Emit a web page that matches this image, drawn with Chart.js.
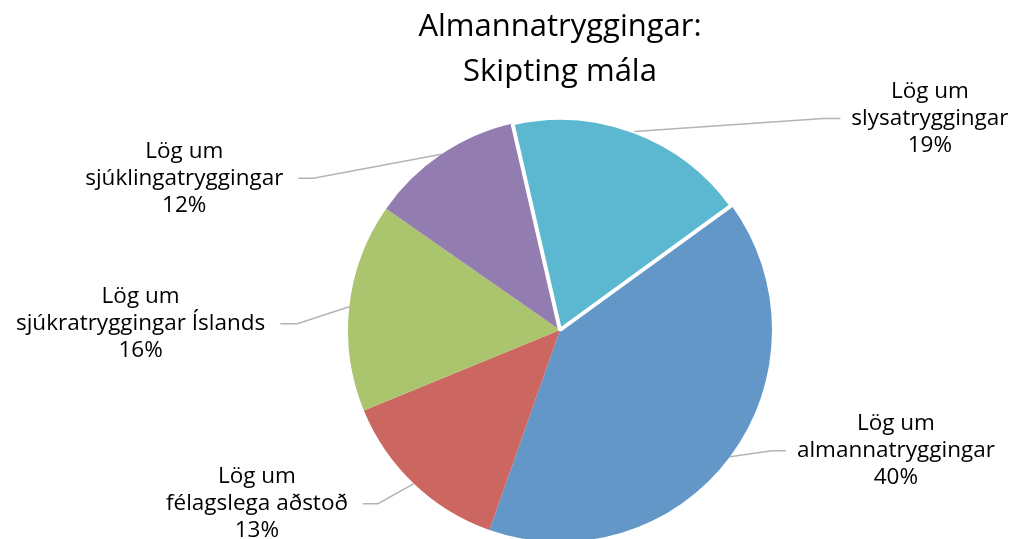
<!DOCTYPE html>
<html>
<head>
<meta charset="utf-8">
<script src="https://cdn.jsdelivr.net/npm/chart.js@4.4.1/dist/chart.umd.min.js"></script>
<style>
  html, body { margin: 0; padding: 0; background: #fff; overflow: hidden; }
  #wrap { position: relative; width: 1014px; height: 560px; }
</style>
</head>
<body>
<div id="wrap"><canvas id="grafSkipting"></canvas></div>
<script>
// Gögn
const titleLines = ['Almannatryggingar:', 'Skipting mála'];
const categories = [
    'Lög um almannatryggingar',
    'Lög um félagslega aðstoð',
    'Lög um sjúkratryggingar Íslands',
    'Lög um sjúklingatryggingar',
    'Lög um slysatryggingar'
];
const shares = [40.4, 13.4, 15.9, 11.7, 18.6];

const sliceColors = ['#6297c8', '#cc6661', '#abc46e', '#937cb0', '#5cb8d1'];
// leader line: elbow offset from arc point (dx, dy) and horizontal run
const leaderLayout = [
    [42, -6, 14],
    [-36, 20, 15],
    [-52, 17, 17],
    [-128, 24, 15],
    [189, -13, 17]
];

const leaderLabels = {
    id: 'leaderLabels',
    afterDatasetsDraw(chart) {
        const ctx = chart.ctx;
        const meta = chart.getDatasetMeta(0);
        const total = shares.reduce((a, b) => a + b, 0);
        ctx.save();
        meta.data.forEach((arc, i) => {
            const p = arc.getProps(['x', 'y', 'startAngle', 'endAngle', 'outerRadius'], true);
            const mid = (p.startAngle + p.endAngle) / 2;
            const ax = p.x + Math.cos(mid) * p.outerRadius;
            const ay = p.y + Math.sin(mid) * p.outerRadius;
            const [dx, dy, run] = leaderLayout[i];
            const side = dx >= 0 ? 1 : -1;
            const ex = ax + dx, ey = ay + dy;
            const tx = ex + side * run;

            ctx.strokeStyle = '#b4b4b4';
            ctx.lineWidth = 1.5;
            ctx.beginPath();
            ctx.moveTo(ax, ay);
            ctx.lineTo(ex, ey);
            ctx.lineTo(tx, ey);
            ctx.stroke();

            const name = categories[i];
            const lines = ['Lög um', name.replace('Lög um ', ''), Math.round(shares[i] / total * 100) + '%'];
            ctx.font = '22.5px "Open Sans"';
            ctx.fillStyle = '#000';
            ctx.textAlign = 'center';
            ctx.textBaseline = 'middle';
            const w = Math.max(...lines.map(l => ctx.measureText(l).width));
            const gap = side > 0 ? 11 : 15;
            const cx = tx + side * (gap + w / 2);
            lines.forEach((l, k) => ctx.fillText(l, cx, ey + (k - 1) * 27));
        });
        ctx.restore();
    }
};

document.addEventListener('DOMContentLoaded', function() {
    const ctx = document.getElementById('grafSkipting').getContext('2d');
    new Chart(ctx, {
        type: 'pie',
        data: {
            labels: categories,
            datasets: [{
                data: shares,
                backgroundColor: sliceColors,
                borderColor: '#ffffff',
                borderWidth: [0, 0, 0, 0, 4]
            }]
        },
        options: {
            responsive: true,
            maintainAspectRatio: false,
            animation: false,
            rotation: 54,
            radius: 212,
            layout: { padding: { left: 106, right: 0, top: 0, bottom: 18 } },
            plugins: {
                legend: { display: false },
                tooltip: { enabled: false },
                title: {
                    display: true,
                    text: titleLines,
                    color: '#000',
                    font: { family: 'Open Sans', size: 31, weight: 'normal', lineHeight: 45 / 31 },
                    padding: { top: 5, bottom: 23 }
                }
            }
        },
        plugins: [leaderLabels]
    });
});
</script>
</body>
</html>
